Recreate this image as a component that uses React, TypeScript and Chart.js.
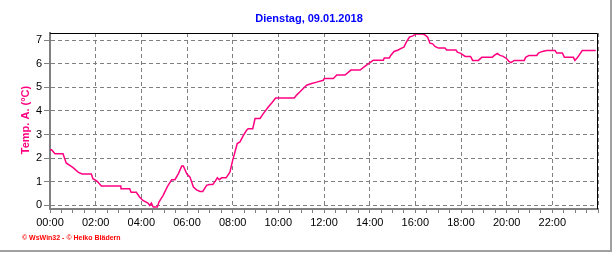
import React, { useEffect, useRef } from 'react';
import { Chart, registerables } from 'chart.js';

Chart.register(...registerables);

const chartTitle = 'Dienstag, 09.01.2018';
const yAxisTitle = 'Temp. A. (°C)';
const footerText = '© WsWin32 - © Heiko Blädern';

// time of day in decimal hours
const hours = [
  0, 0.07, 0.22, 0.57, 0.71, 1.01, 1.23, 1.40, 1.81, 1.88,
  2.07, 2.25, 3.10, 3.11, 3.49, 3.55, 3.78, 3.93, 4.07, 4.29,
  4.37, 4.44, 4.52, 4.70, 4.77, 4.95, 5.14, 5.33, 5.47, 5.62,
  5.77, 5.84, 5.99, 6.13, 6.28, 6.42, 6.57, 6.69, 6.86, 6.98,
  7.13, 7.23, 7.33, 7.41, 7.52, 7.71, 7.88, 8.00, 8.10, 8.20,
  8.32, 8.47, 8.61, 8.68, 8.88, 8.98, 9.20, 9.34, 9.56, 9.71,
  9.88, 10.70, 10.80, 10.95, 11.09, 11.24, 11.46, 11.68, 11.97, 12.01,
  12.41, 12.56, 12.92, 13.18, 13.58, 13.80, 14.06, 14.16, 14.60, 14.64,
  14.86, 14.92, 15.07, 15.25, 15.40, 15.50, 15.62, 15.74, 15.89, 16.03,
  16.32, 16.42, 16.54, 16.64, 16.76, 16.86, 17.01, 17.30, 17.37, 17.78,
  17.84, 17.99, 18.18, 18.42, 18.51, 18.76, 18.91, 19.37, 19.46, 19.59,
  19.71, 19.85, 20.00, 20.10, 20.19, 20.33, 20.77, 20.83, 20.98, 21.32,
  21.39, 21.56, 21.75, 22.12, 22.19, 22.44, 22.53, 22.92, 22.99, 23.11,
  23.31, 23.90,
];

// outside temperature in °C
const temps = [
  2.36, 2.36, 2.19, 2.19, 1.80, 1.60, 1.41, 1.33, 1.33, 1.13,
  1.02, 0.82, 0.82, 0.71, 0.71, 0.56, 0.56, 0.35, 0.21, 0.10,
  0.00, 0.10, -0.07, -0.07, 0.14, 0.42, 0.80, 1.09, 1.09, 1.34,
  1.67, 1.67, 1.34, 1.20, 0.78, 0.66, 0.59, 0.59, 0.85, 0.89,
  0.89, 1.02, 1.17, 1.09, 1.17, 1.17, 1.41, 1.91, 2.26, 2.62,
  2.69, 2.97, 3.18, 3.25, 3.25, 3.68, 3.68, 3.89, 4.17, 4.34,
  4.55, 4.55, 4.67, 4.81, 4.95, 5.09, 5.16, 5.22, 5.30, 5.37,
  5.37, 5.52, 5.52, 5.73, 5.73, 5.90, 6.08, 6.15, 6.15, 6.24,
  6.24, 6.35, 6.52, 6.58, 6.66, 6.70, 6.94, 7.13, 7.18, 7.26,
  7.26, 7.22, 7.12, 6.87, 6.84, 6.73, 6.66, 6.66, 6.58, 6.58,
  6.49, 6.44, 6.31, 6.31, 6.14, 6.14, 6.27, 6.27, 6.35, 6.44,
  6.35, 6.31, 6.21, 6.10, 6.05, 6.14, 6.14, 6.27, 6.35, 6.35,
  6.45, 6.52, 6.56, 6.56, 6.45, 6.45, 6.27, 6.27, 6.14, 6.27,
  6.56, 6.56,
];

const xTickValues = [
  0, 0.5, 1, 1.5, 2, 2.5, 3, 3.5, 4, 4.5, 5, 5.5, 6, 6.5, 7, 7.5, 8, 8.5,
  9, 9.5, 10, 10.5, 11, 11.5, 12, 12.5, 13, 13.5, 14, 14.5, 15, 15.5, 16,
  16.5, 17, 17.5, 18, 18.5, 19, 19.5, 20, 20.5, 21, 21.5, 22, 22.5, 23, 23.5, 24,
];
const xLabelValues = [0, 2, 4, 6, 8, 10, 12, 14, 16, 18, 20, 22];
const yTickValues = [0, 1, 2, 3, 4, 5, 6, 7];

const LINE_COLOR = '#FF0080';
const GRID_COLOR = '#808080';
const FONT = '"Liberation Sans", Arial, sans-serif';

const fmtHour = (v: number) => `${String(v).padStart(2, '0')}:00`;

const decorPlugin = {
  id: 'decor',
  afterDraw(chart: any) {
    const { ctx, chartArea } = chart;
    ctx.save();
    // black top and right frame of the plot
    ctx.strokeStyle = '#000';
    ctx.lineWidth = 1;
    ctx.setLineDash([]);
    ctx.beginPath();
    ctx.moveTo(chartArea.left, chartArea.top + 0.5);
    ctx.lineTo(chartArea.right - 0.5, chartArea.top + 0.5);
    ctx.lineTo(chartArea.right - 0.5, chartArea.bottom);
    ctx.stroke();

    // outer grey frame (right and bottom)
    ctx.strokeStyle = '#a0a0a0';
    ctx.lineWidth = 2;
    ctx.beginPath();
    ctx.moveTo(611, 0);
    ctx.lineTo(611, 251);
    ctx.lineTo(0, 251);
    ctx.stroke();

    // title
    ctx.fillStyle = '#0000FF';
    ctx.font = `bold 11px ${FONT}`;
    ctx.textAlign = 'center';
    ctx.textBaseline = 'middle';
    ctx.fillText(chartTitle, 309, 19);

    // y axis title
    ctx.save();
    ctx.translate(26, 120);
    ctx.rotate(-Math.PI / 2);
    ctx.fillStyle = LINE_COLOR;
    ctx.font = `bold 11px ${FONT}`;
    ctx.fillText(yAxisTitle, 0, 0);
    ctx.restore();

    // footer
    ctx.fillStyle = '#FF0000';
    ctx.font = `bold 7px ${FONT}`;
    ctx.textAlign = 'left';
    ctx.textBaseline = 'middle';
    ctx.fillText(footerText, 22, 238.5);
    ctx.restore();
  },
};

export default function App() {
  const ref = useRef<HTMLCanvasElement>(null);

  useEffect(() => {
    const canvas = ref.current;
    if (!canvas) return;
    const chart = new Chart(canvas, {
      type: 'line',
      data: {
        datasets: [
          {
            label: yAxisTitle,
            data: hours.map((h, i) => ({ x: h, y: temps[i] })),
            borderColor: LINE_COLOR,
            backgroundColor: LINE_COLOR,
            borderWidth: 1.5,
            pointRadius: 0,
            tension: 0,
            fill: false,
          },
        ],
      },
      options: {
        responsive: false,
        animation: false,
        devicePixelRatio: 1,
        layout: { padding: { top: 33, right: 18, left: 0, bottom: 0 } },
        plugins: {
          legend: { display: false },
          title: { display: false },
          tooltip: { enabled: false },
        },
        scales: {
          x: {
            type: 'linear',
            min: 0,
            max: 24,
            afterBuildTicks: (s: any) => {
              s.ticks = xTickValues.map((v) => ({ value: v }));
            },
            afterFit: (s: any) => {
              s.height = 44;
            },
            ticks: {
              autoSkip: false,
              maxRotation: 0,
              minRotation: 0,
              color: '#000',
              font: { family: FONT, size: 11 },
              padding: 3,
              callback: (v: any) => (xLabelValues.includes(Number(v)) ? fmtHour(Number(v)) : ''),
            },
            grid: {
              color: (c: any) =>
                c.tick && Number(c.tick.value) % 2 === 0 ? GRID_COLOR : 'rgba(0,0,0,0)',
              tickColor: GRID_COLOR,
              tickLength: 4,
              lineWidth: 1,
            },
            border: { display: true, color: GRID_COLOR, width: 2, dash: [4, 3] },
          },
          y: {
            type: 'linear',
            min: -0.15,
            max: 7.3,
            afterBuildTicks: (s: any) => {
              s.ticks = yTickValues.map((v) => ({ value: v }));
            },
            afterFit: (s: any) => {
              s.width = 50;
            },
            ticks: {
              color: '#000',
              font: { family: FONT, size: 11 },
              padding: 2,
              callback: (v: any) => String(v),
            },
            grid: {
              color: GRID_COLOR,
              tickColor: GRID_COLOR,
              tickLength: 6,
              lineWidth: 1,
            },
            border: { display: true, color: GRID_COLOR, width: 2, dash: [4, 3] },
          },
        },
      },
      plugins: [decorPlugin],
    } as any);
    return () => chart.destroy();
  }, []);

  return (
    <div
      style={{ position: 'fixed', left: 0, top: 0, width: 616, height: 253, background: '#fff' }}
    >
      <canvas
        ref={ref}
        width={616}
        height={253}
        style={{ display: 'block', width: 616, height: 253 }}
      />
    </div>
  );
}
